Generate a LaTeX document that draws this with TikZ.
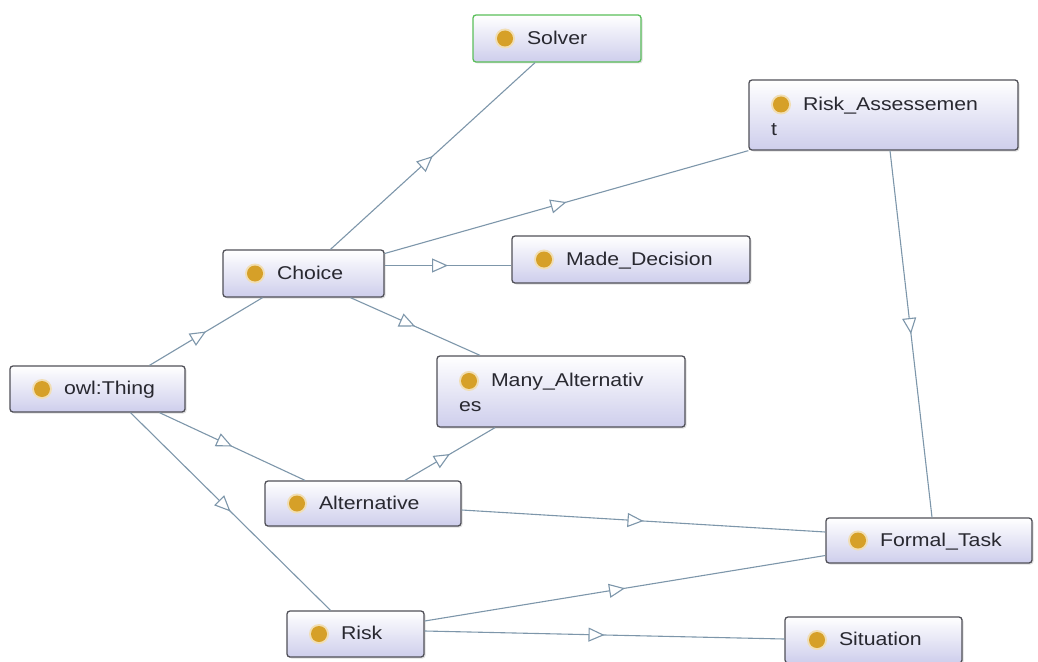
\documentclass[tikz,border=0pt]{standalone}
\usepackage{fontspec}
\setmainfont{Liberation Sans}[FakeStretch=1.15]
\usepackage{xcolor}
\usetikzlibrary{arrows.meta}
\usetikzlibrary{decorations.markings}
\usetikzlibrary{shadows}

\definecolor{linkcol}{RGB}{125,150,170}
\definecolor{boxedge}{RGB}{80,80,88}
\definecolor{boxlav}{RGB}{206,206,236}
\definecolor{dotcol}{RGB}{214,160,40}
\definecolor{solvergreen}{RGB}{90,190,90}
\definecolor{labelcol}{RGB}{40,40,48}

\newcommand{\owldot}{\tikz[baseline=-0.6ex]{\fill[dotcol!35] (0,0) circle (10pt); \fill[dotcol] (0,0) circle (8pt);}\hspace{12pt}}

\tikzset{
  cls/.style={draw=boxedge, line width=1.3pt, rounded corners=3pt,
    top color=white, bottom color=boxlav, text=labelcol,
    drop shadow={shadow xshift=1.5pt, shadow yshift=-1.5pt, opacity=0.25},
    align=left, inner xsep=22pt, inner ysep=0pt,
    font=\fontsize{18.5}{25}\selectfont},
  link/.style={draw=linkcol, line width=1.1pt, postaction={decorate},
    decoration={markings, mark=at position 0.5 with {\arrow{Triangle[length=16pt, width=14pt, fill=white, line width=1.1pt]}}}}
}

\begin{document}
\begin{tikzpicture}[x=1pt,y=-1pt]
  \useasboundingbox (0,0) rectangle (1038,661);

  % classes
  \node[cls, draw=solvergreen, text width=124pt, minimum height=47pt] (solver) at (557,38.5) {\owldot Solver};
  \node[cls, text width=225pt, minimum height=70pt] (riskass) at (883.5,115) {\owldot Risk\_Assessemen\\t};
  \node[cls, text width=117pt, minimum height=47pt] (choice) at (303.5,273.5) {\owldot Choice};
  \node[cls, text width=194pt, minimum height=47pt] (made) at (631,259.5) {\owldot Made\_Decision};
  \node[cls, text width=131pt, minimum height=46pt] (thing) at (97.5,389) {\owldot owl:Thing};
  \node[cls, text width=204pt, minimum height=71pt] (many) at (561,391.5) {\owldot Many\_Alternativ\\es};
  \node[cls, text width=152pt, minimum height=45pt] (alt) at (363,503.5) {\owldot Alternative};
  \node[cls, text width=162pt, minimum height=45pt] (formal) at (929,540.5) {\owldot Formal\_Task};
  \node[cls, text width=93pt, minimum height=46pt] (risk) at (355.5,634) {\owldot Risk};
  \node[cls, text width=133pt, minimum height=46pt] (situation) at (873.5,640) {\owldot Situation};

  % subclass links
  \draw[link] ([xshift=52pt]thing.north) -- ([xshift=-41pt]choice.south);
  \draw[link] ([xshift=27pt]choice.north) -- ([xshift=-22pt]solver.south);
  \draw[link] ([yshift=20pt]choice.east) -- (riskass.south west);
  \draw[link] ([yshift=8pt]choice.east) -- ([yshift=-6pt]made.west);
  \draw[link] ([xshift=47pt]choice.south) -- ([xshift=-81pt]many.north);
  \draw[link] ([xshift=62pt]thing.south) -- ([xshift=-58pt]alt.north);
  \draw[link] ([xshift=33pt]thing.south) -- ([xshift=-25pt]risk.north);
  \draw[link] ([xshift=42pt]alt.north) -- ([xshift=-66pt]many.south);
  \draw[link] ([yshift=-6.5pt]alt.east) -- ([yshift=8.5pt]formal.west);
  \draw[link] ([xshift=6.5pt]riskass.south) -- ([xshift=3pt]formal.north);
  \draw[link] ([yshift=13pt]risk.east) -- ([yshift=-15pt]formal.west);
  \draw[link] ([yshift=3pt]risk.east) -- ([yshift=1pt]situation.west);
\end{tikzpicture}
\end{document}
